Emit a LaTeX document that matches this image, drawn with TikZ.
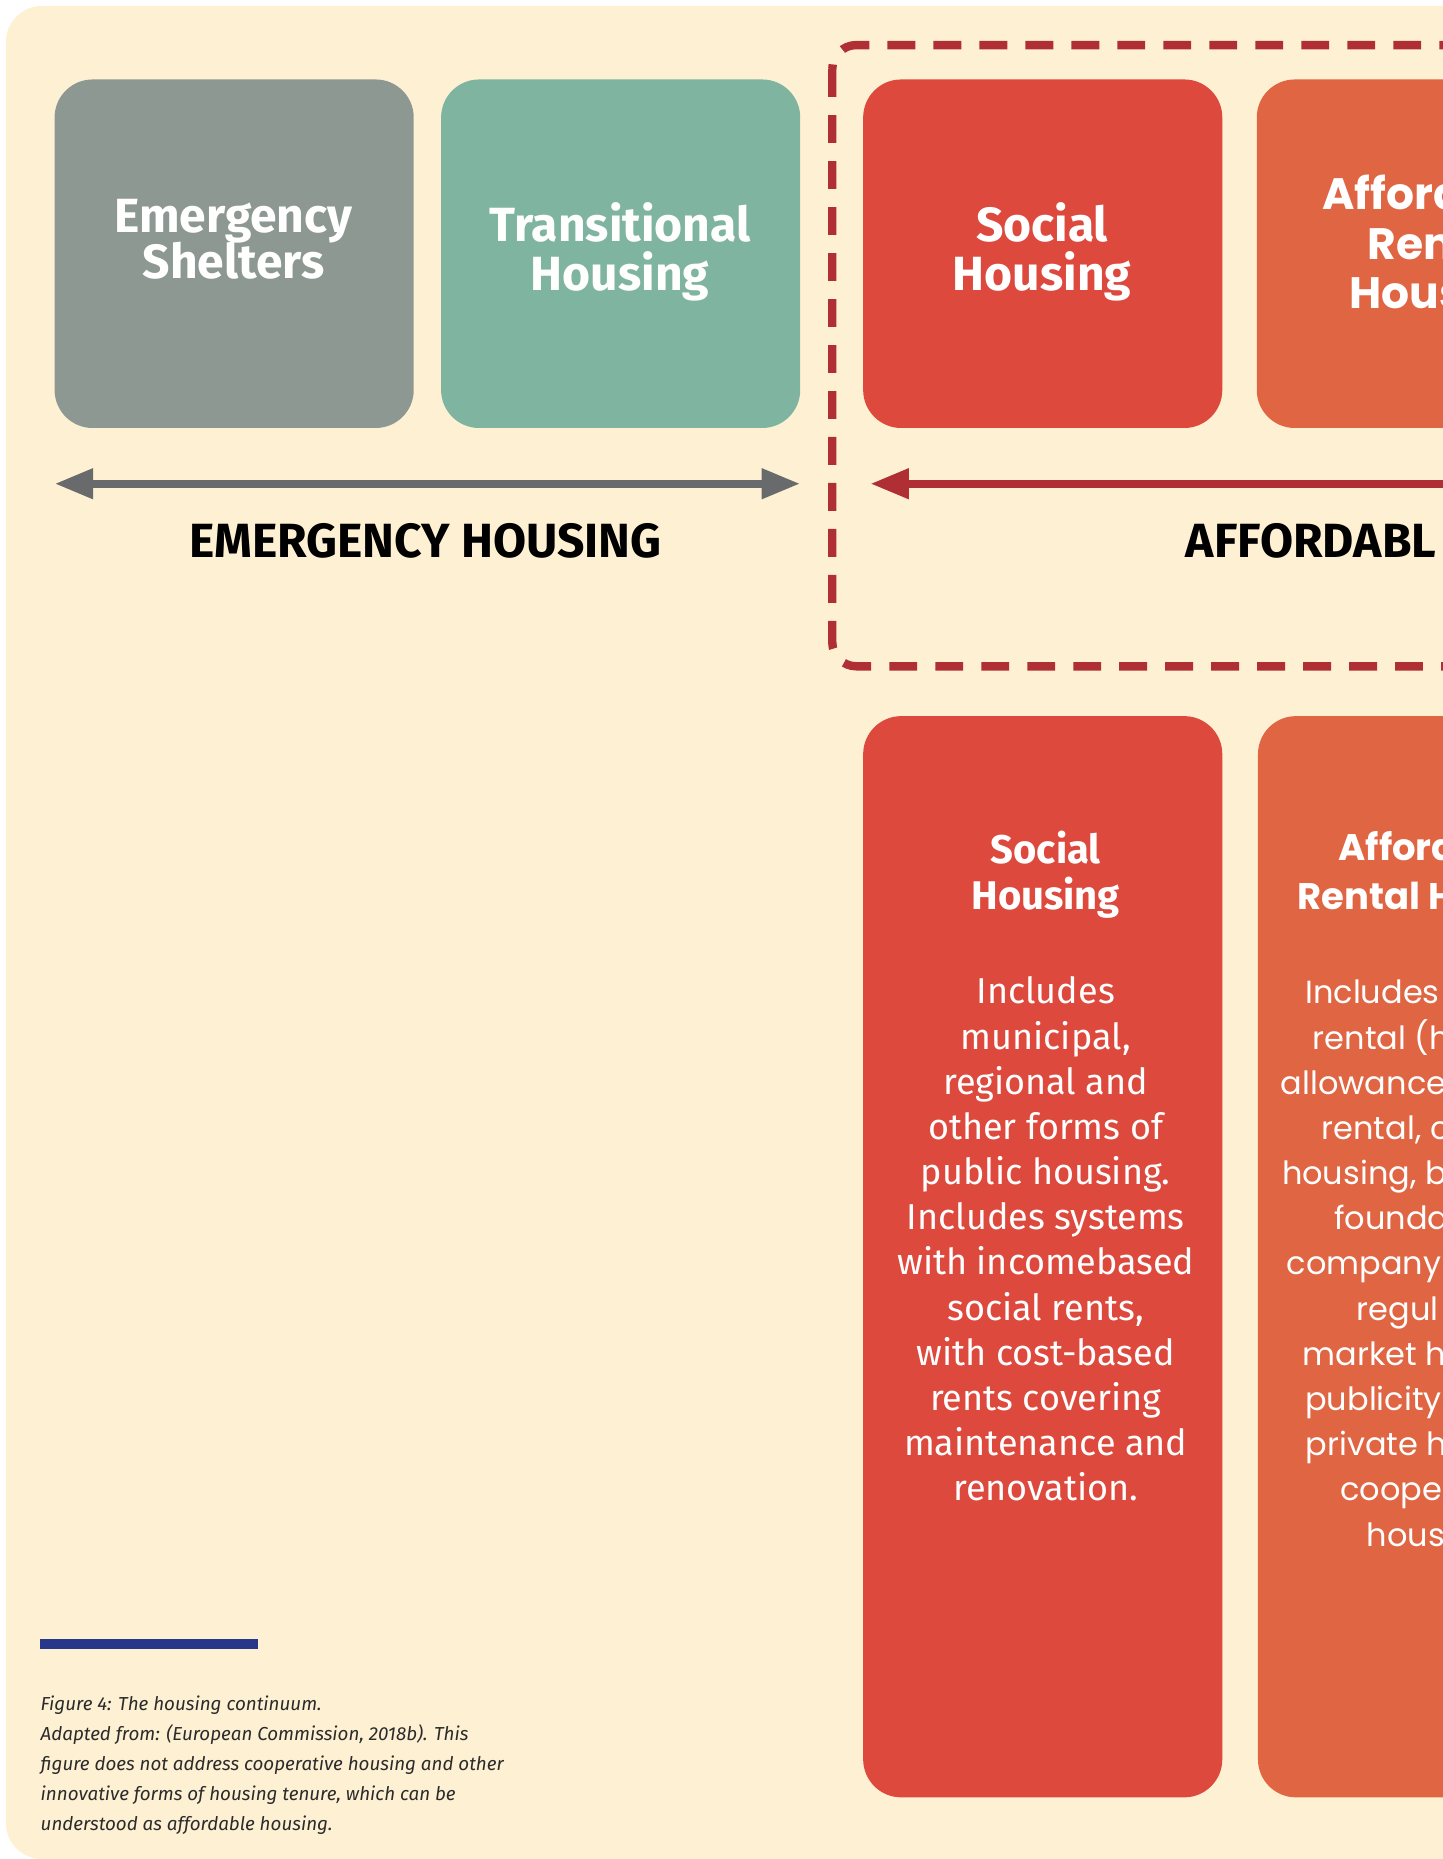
\documentclass[tikz,border=0pt]{standalone}
\usepackage{fontspec}
\setmainfont{Fira Sans}
\newfontfamily\widefont{Poppins}
\usetikzlibrary{arrows.meta}
\definecolor{cream}{HTML}{FEF1D3}
\definecolor{greybox}{HTML}{8E9893}
\definecolor{tealbox}{HTML}{7FB5A0}
\definecolor{redbox}{HTML}{DD493D}
\definecolor{orangebox}{HTML}{E06542}
\definecolor{darkred}{HTML}{B02F35}
\definecolor{arrowgrey}{HTML}{696A6C}
\definecolor{barblue}{HTML}{27378A}
\definecolor{captext}{HTML}{2B2B2B}
\tikzset{
  tile/.style={rounded corners=19pt, minimum width=179.6pt, inner sep=0pt},
  toptitle/.style={anchor=base, inner sep=0pt, text=white, font=\fontsize{24}{24}\selectfont\bfseries},
  widetitle/.style={anchor=base west, inner sep=0pt, text=white, font=\widefont\fontsize{22}{22}\selectfont\bfseries},
  subtitle/.style={anchor=base, inner sep=0pt, text=white, font=\fontsize{20}{20}\selectfont\bfseries},
  widesub/.style={anchor=base west, inner sep=0pt, text=white, font=\widefont\fontsize{18.5}{18.5}\selectfont\bfseries},
  body/.style={anchor=base, inner sep=0pt, text=white, font=\fontsize{18}{18}\selectfont},
  widebody/.style={anchor=base west, inner sep=0pt, text=white, font=\widefont\fontsize{16}{16}\selectfont},
  heading/.style={inner sep=0pt, text=black, font=\fontsize{24}{24}\selectfont\bfseries},
  caption/.style={anchor=base west, inner sep=0pt, text=captext, font=\fontsize{9.4}{9.4}\selectfont\itshape},
  longarrow/.style={line width=4.2pt, {Triangle[length=19.3pt, width=14.3pt]}-{Triangle[length=19.3pt, width=14.3pt]}}
}
\begin{document}
\begin{tikzpicture}[x=0.5929pt, y=-0.5929pt]
  \useasboundingbox (0,0) rectangle (1217,1568);
  \clip (0,0) rectangle (1217,1568);
  \fill[cream, rounded corners=18pt] (5,5) rectangle (1400,1568);
  % dashed frame round the affordable part
  \draw[darkred, line width=4.2pt, dash pattern=on 13.9pt off 9.1pt, rounded corners=12pt] (702,38) rectangle (1400,562);
  % top row
  \node[tile, minimum height=174.3pt, fill=greybox] (shelter) at (197.5,214) {};
  \node[tile, minimum height=174.3pt, fill=tealbox] (transit) at (523.5,214) {};
  \node[tile, minimum height=174.3pt, fill=redbox] (social) at (879.5,214) {};
  \node[tile, minimum height=174.3pt, fill=orangebox] (afford) at (1211.5,214) {};
  \node[toptitle] (shelterA) at (197,196) {Emergency};
  \node[toptitle] (shelterB) at (197,235) {Shelters};
  \node[toptitle] (transitA) at (523,203.5) {Transitional};
  \node[toptitle] (transitB) at (523,245) {Housing};
  \node[toptitle] (socialA) at (879,204) {Social};
  \node[toptitle] (socialB) at (879,245) {Housing};
  \node[widetitle] (affordA) at (1115,177) {Afford};
  \node[widetitle] (affordB) at (1153,219) {Ren};
  \node[widetitle] (affordC) at (1138,260) {Hous};
  % arrows and headings
  \coordinate (emleft) at (46,408);
  \coordinate (emright) at (675,408);
  \coordinate (afleft) at (734,408);
  \coordinate (afright) at (1400,408);
  \draw[longarrow, arrowgrey] (emleft) -- (emright);
  \draw[longarrow, darkred] (afright) -- (afleft);
  \node[heading, anchor=base] (emhead) at (359,470) {EMERGENCY HOUSING};
  \node[heading, anchor=base west] (afhead) at (1000,470) {AFFORDABL};
  % bottom row
  \node[tile, minimum height=540.7pt, fill=redbox] (socialtext) at (879.5,1060) {};
  \node[tile, minimum height=540.7pt, fill=orangebox] (affordtext) at (1212.5,1060) {};
  \node[subtitle] (socialtextA) at (882,728) {Social};
  \node[subtitle] (socialtextB) at (882,767.5) {Housing};
  \foreach \ln [count=\i from 0] in {Includes,{municipal,},regional and,other forms of,public housing.,Includes systems,with incomebased,{social rents,},with cost-based,rents covering,maintenance and,renovation.}
    \node[body] (socialline\i) at (882,846.8+38.1*\i) {\ln};
  \node[widesub] (affordtextA) at (1128.6,726) {Afford};
  \node[widesub] (affordtextB) at (1094,767) {Rental H};
  \foreach \xx/\ln [count=\i from 0] in {1100.6/Includes,1107/rental (h,1080/allowance,1114.5/{rental, c},1081/{housing, b},1125/founda,1085/company,1144/regul,1098.5/market h,1100.6/publicity,1101/private h,1130/cooper,1152.6/hous}
    \node[widebody] (affordline\i) at (\xx,846.8+38.1*\i) {\ln};
  % caption
  \fill[barblue] (34,1382) rectangle (218,1391);
  \foreach \ln [count=\i from 0] in {Figure 4: The housing continuum.,{Adapted from: (European Commission, 2018b). This},figure does not address cooperative housing and other,{innovative forms of housing tenure, which can be},understood as affordable housing.}
    \node[caption] (capline\i) at (34,1442.6+25.3*\i) {\ln};
\end{tikzpicture}
\end{document}
